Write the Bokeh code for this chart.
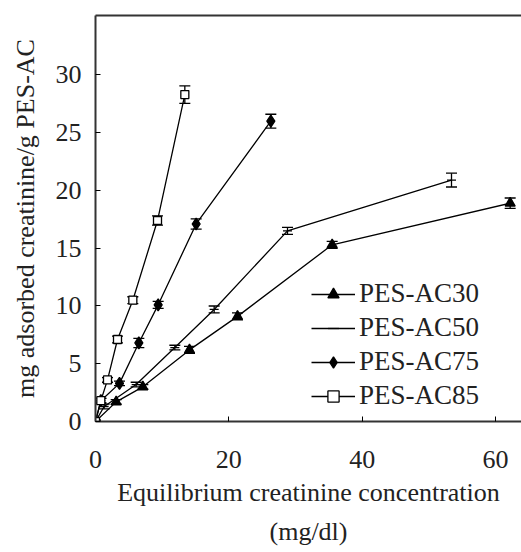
from bokeh.plotting import figure
from bokeh.models import (ColumnDataSource, Whisker, TeeHead, Legend, LegendItem,
                          LinearAxis, FixedTicker, Range1d, Title)
from bokeh.embed import file_html
from bokeh.resources import INLINE

# ---- data ----
ac30_x = [0, 3.1, 7.1, 14.1, 21.3, 35.5, 62.2]
ac30_y = [0, 1.7, 3.0, 6.2, 9.1, 15.3, 18.9]
ac30_e = [0.1, 0.2, 0.2, 0.3, 0.3, 0.3, 0.45]

ac50_x = [0, 1.3, 6.1, 11.9, 17.8, 28.8, 53.4]
ac50_y = [0, 1.3, 3.2, 6.4, 9.7, 16.5, 20.9]
ac50_e = [0.1, 0.2, 0.2, 0.2, 0.3, 0.3, 0.6]

ac75_x = [0, 0.8, 3.6, 6.5, 9.4, 15.1, 26.3]
ac75_y = [0, 1.8, 3.3, 6.8, 10.1, 17.1, 26.0]
ac75_e = [0.1, 0.2, 0.2, 0.4, 0.3, 0.45, 0.6]

ac85_x = [0, 0.8, 1.8, 3.3, 5.6, 9.3, 13.4]
ac85_y = [0, 1.8, 3.6, 7.1, 10.5, 17.4, 28.3]
ac85_e = [0.1, 0.2, 0.2, 0.3, 0.3, 0.4, 0.75]

x_ticks = [0, 20, 40, 60]
y_ticks = [0, 5, 10, 15, 20, 25, 30]

FONT = "Liberation Serif"

p = figure(width=521, height=552, output_backend="svg", toolbar_location=None,
           x_range=Range1d(0, 63.9), y_range=Range1d(0, 35.15),
           min_border_left=95, min_border_right=0, min_border_top=15,
           min_border_bottom=131)
p.outline_line_color = None
p.grid.visible = False
p.background_fill_color = "white"

for ax in (p.xaxis[0], p.yaxis[0]):
    ax.axis_line_width = 2
    ax.axis_line_color = "#333333"
    ax.major_tick_in = 5
    ax.major_tick_out = 0
    ax.minor_tick_line_color = None
    ax.major_label_text_font = FONT
    ax.major_label_text_font_size = "26px"
    ax.major_label_text_color = "#222222"
    ax.axis_label_text_font = FONT
    ax.axis_label_text_font_style = "normal"
    ax.axis_label_text_font_size = "26px"
    ax.axis_label_text_color = "#222222"

p.xaxis.ticker = FixedTicker(ticks=x_ticks)
p.yaxis.ticker = FixedTicker(ticks=y_ticks)
p.xaxis.major_label_standoff = 29
p.yaxis.major_label_standoff = 14
p.xaxis.axis_label = "Equilibrium creatinine concentration"
p.xaxis.axis_label_standoff = 7
p.yaxis.axis_label = "mg adsorbed creatinine/g PES-AC"
p.yaxis.axis_label_standoff = 13

top = LinearAxis(ticker=FixedTicker(ticks=[]), axis_line_width=2,
                 axis_line_color="#333333", major_tick_line_color=None,
                 minor_tick_line_color=None, major_label_text_font_size="0px")
p.add_layout(top, "above")

unit = Title(text="(mg/dl)", align="center", text_font=FONT,
             text_font_size="26px", text_font_style="normal",
             text_color="#222222", standoff=10)
p.add_layout(unit, "below")

series = [
    ("PES-AC30", ac30_x, ac30_y, ac30_e, "triangle", 10, "black"),
    ("PES-AC50", ac50_x, ac50_y, ac50_e, "dash", 9, "black"),
    ("PES-AC75", ac75_x, ac75_y, ac75_e, "diamond", 12, "black"),
    ("PES-AC85", ac85_x, ac85_y, ac85_e, "square", 8, "white"),
]

items = []
for name, xs, ys, es, marker, size, fill in series:
    src = ColumnDataSource(dict(x=xs, y=ys,
                                lo=[a - b for a, b in zip(ys, es)],
                                hi=[a + b for a, b in zip(ys, es)]))
    ln = p.line("x", "y", source=src, line_color="black", line_width=1.3)
    w = Whisker(base="x", lower="lo", upper="hi", source=src,
                line_color="black", line_width=1.3,
                upper_head=TeeHead(size=11, line_color="black", line_width=1.3),
                lower_head=TeeHead(size=11, line_color="black", line_width=1.3))
    p.add_layout(w)
    sc = p.scatter("x", "y", source=src, marker=marker, size=size,
                   line_color="black", fill_color=fill, line_width=1.3)
    items.append(LegendItem(label=name, renderers=[ln, sc]))

legend = Legend(items=items, location=(216, 10), orientation="vertical",
                label_text_font=FONT, label_text_font_size="27px",
                label_text_color="#222222",
                glyph_width=44, glyph_height=28, label_height=28,
                spacing=3, padding=0, margin=0, label_standoff=4,
                border_line_color=None, background_fill_alpha=0)
p.add_layout(legend, "center")

open("out.html", "w").write(file_html(p, INLINE))
